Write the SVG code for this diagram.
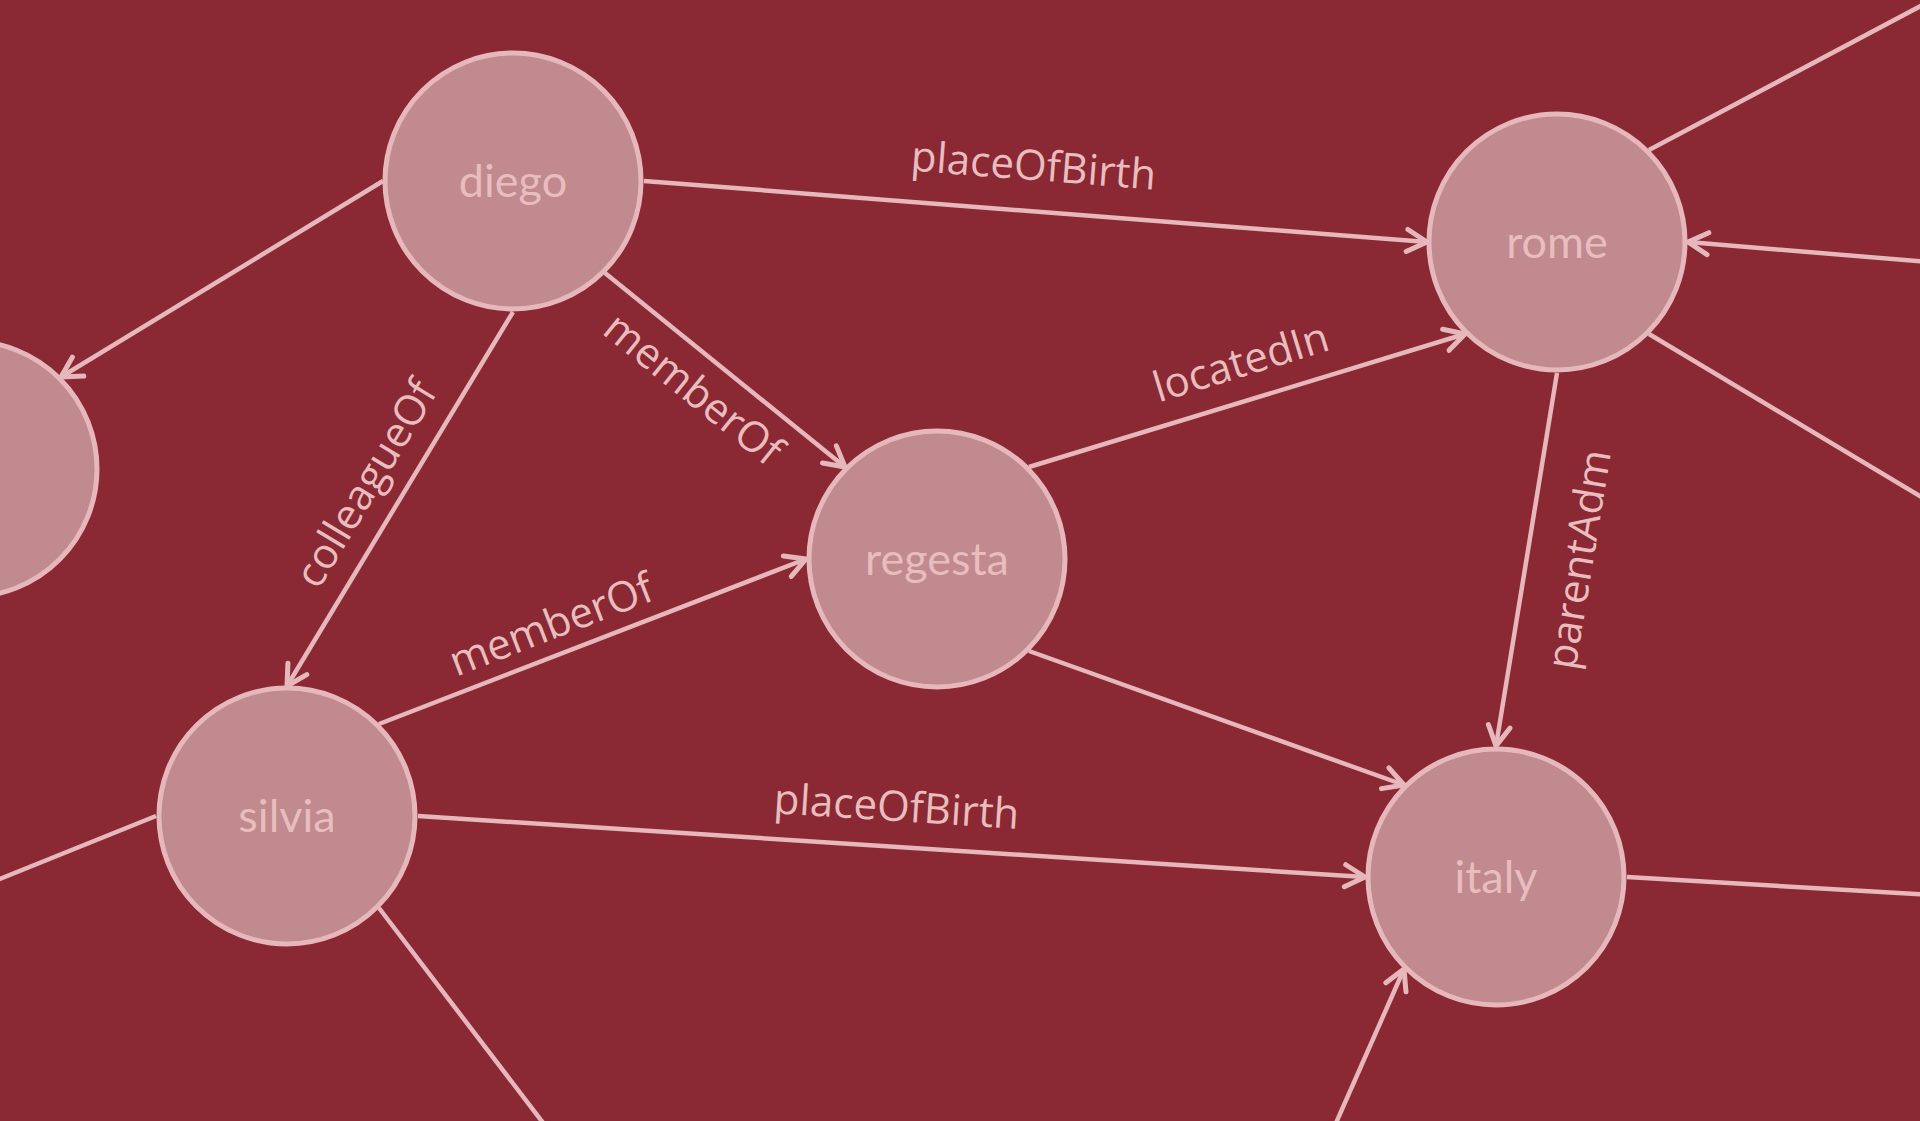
<svg xmlns="http://www.w3.org/2000/svg" width="1920" height="1121" viewBox="0 0 1920 1121">
  <defs>
    <marker id="arrow" markerUnits="userSpaceOnUse" markerWidth="40" markerHeight="40" refX="0" refY="0" orient="auto" overflow="visible">
      <path d="M -20 -11 L 0 0 L -20 11" fill="none" stroke="#E7B8BB" stroke-width="5" stroke-linecap="round" stroke-linejoin="round"/>
    </marker>
    <style>
      .edge { stroke: #E7B8BB; stroke-width: 4.5; fill: none; }
      .arrowed { marker-end: url(#arrow); }
      .node circle { fill: #C08A8F; stroke: #E7B8BB; stroke-width: 5; }
      .node text { font-family: Lato, "Liberation Sans", sans-serif; font-size: 45px; fill: #E9BCBE; text-anchor: middle; }
      .label { font-family: "Open Sans", "Liberation Sans", sans-serif; font-size: 42px; fill: #E9BCBE; text-anchor: middle; }
    </style>
  </defs>

  <rect x="0" y="0" width="1920" height="1121" fill="#8A2834"/>

  <!-- connectors: endpoints sit on the compass points of each circle -->
  <g id="connectors">
    <line id="e-diego-rome" class="edge arrowed" x1="644" y1="181" x2="1427" y2="242"/>
    <line id="e-diego-left" class="edge arrowed" x1="383" y1="181" x2="61" y2="377"/>
    <line id="e-diego-silvia" class="edge arrowed" x1="513" y1="312" x2="287" y2="686"/>
    <line id="e-diego-regesta" class="edge arrowed" x1="605" y1="273" x2="845" y2="467"/>
    <line id="e-regesta-rome" class="edge arrowed" x1="1029" y1="467" x2="1465" y2="334"/>
    <line id="e-silvia-regesta" class="edge arrowed" x1="379" y1="724" x2="806" y2="559"/>
    <line id="e-regesta-italy" class="edge arrowed" x1="1029" y1="651" x2="1404" y2="785"/>
    <line id="e-rome-italy" class="edge arrowed" x1="1557" y1="373" x2="1496" y2="746"/>
    <line id="e-silvia-italy" class="edge arrowed" x1="418" y1="816" x2="1365" y2="877"/>
    <line id="e-rome-ne" class="edge" x1="1649" y1="150" x2="2000" y2="-36"/>
    <line id="e-east-rome" class="edge arrowed" x1="2000" y1="268" x2="1688" y2="242"/>
    <line id="e-rome-se" class="edge" x1="1649" y1="334" x2="2000" y2="544"/>
    <line id="e-italy-east" class="edge" x1="1627" y1="877" x2="2000" y2="899"/>
    <line id="e-south-italy" class="edge arrowed" x1="1302" y1="1200" x2="1404" y2="969"/>
    <line id="e-silvia-south" class="edge" x1="379" y1="908" x2="602" y2="1200"/>
    <line id="e-west-silvia" class="edge" x1="-50" y1="899" x2="156" y2="816"/>

    <text class="label" transform="translate(1030 211) rotate(4.45)" y="-31">placeOfBirth</text>
    <text class="label" transform="translate(398 503) rotate(-58.9)" y="-23">colleagueOf</text>
    <text class="label" transform="translate(715 362) rotate(38.9)" y="49">memberOf</text>
    <text class="label" transform="translate(1252 399) rotate(-17)" y="-24">locatedIn</text>
    <text class="label" transform="translate(562 653) rotate(-21.1)" y="-16">memberOf</text>
    <text class="label" transform="translate(1528 551) rotate(-80.7)" y="66">parentAdm</text>
    <text class="label" transform="translate(894 847) rotate(3.69)" y="-26">placeOfBirth</text>
  </g>

  <!-- nodes -->
  <g id="node-left" class="node">
    <circle cx="-31" cy="469" r="128"/>
  </g>
  <g id="node-diego" class="node">
    <circle cx="513" cy="181" r="128"/>
    <text x="513" y="197">diego</text>
  </g>
  <g id="node-rome" class="node">
    <circle cx="1557" cy="242" r="128"/>
    <text x="1557" y="258">rome</text>
  </g>
  <g id="node-regesta" class="node">
    <circle cx="937" cy="559" r="128"/>
    <text x="937" y="575">regesta</text>
  </g>
  <g id="node-silvia" class="node">
    <circle cx="287" cy="816" r="128"/>
    <text x="287" y="832">silvia</text>
  </g>
  <g id="node-italy" class="node">
    <circle cx="1496" cy="877" r="128"/>
    <text x="1496" y="893">italy</text>
  </g>
</svg>
